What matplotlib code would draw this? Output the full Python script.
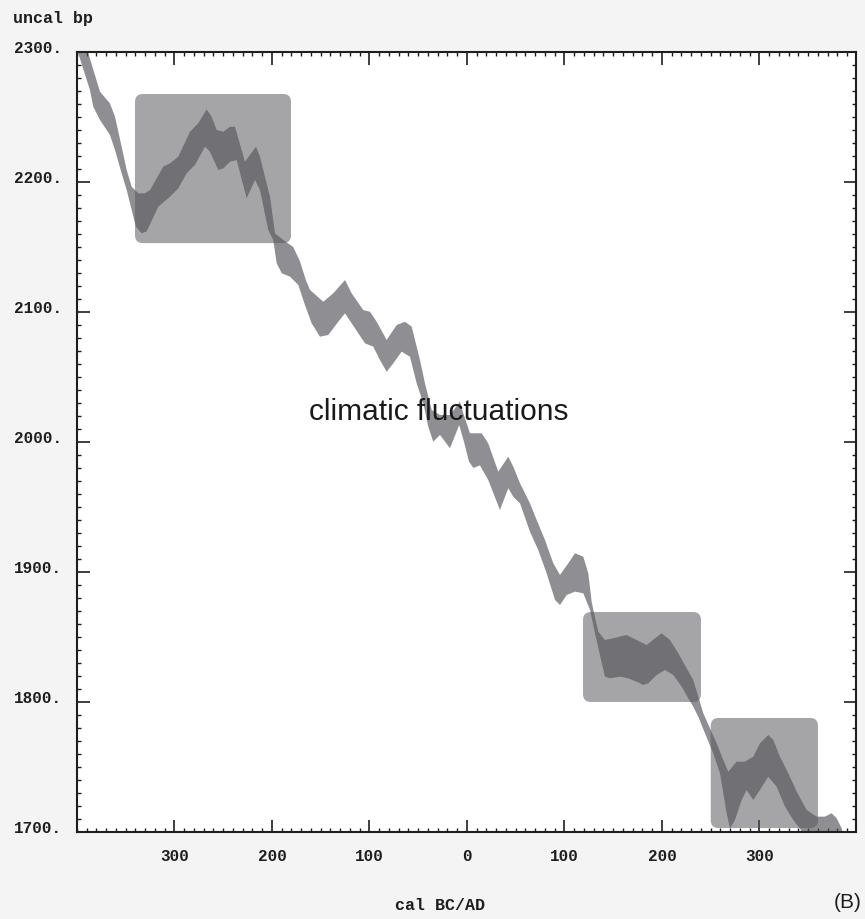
import matplotlib
matplotlib.use("Agg")
import matplotlib.pyplot as plt
from matplotlib.patches import FancyBboxPatch
from matplotlib.ticker import MultipleLocator
from matplotlib.transforms import ScaledTranslation

# ---- data: calibration band (cal year, negative = BC) ----
upper_x = [-392, -388.4, -376.4, -366.2, -361, -354.2, -349, -343.9, -337.1, -330.3, -325.1,
           -311.5, -304.6, -296.1, -284.1, -275.6, -267, -261.9, -256.7, -249.9, -243.1,
           -237.9, -227.7, -216.4, -212.3, -203.8, -202, -196.9, -188.4, -178.2, -171.3,
           -165, -161, -147.4, -137.1, -125.1, -118.3, -106.4, -99.5, -92.6, -82.4, -72.1,
           -63.6, -56.7, -48.2, -43.1, -36.2, -27.7, -17.4, -7.2, -3.8, 3.1, 15.1, 21.8,
           32.1, 42.4, 47.5, 54.4, 64.6, 71.5, 80, 88.5, 95.4, 103.9, 110.8, 119.3, 124.4,
           127.9, 131.3, 134.7, 141.5, 150.1, 156.9, 163.8, 174, 184.3, 192.8, 199.7, 208.2,
           216.7, 225.3, 232.1, 237.2, 242.4, 249.2, 256.1, 262.9, 268, 276.6, 285.1, 293.6,
           300.5, 309, 314.2, 321, 329.6, 338.2, 348.4, 358.7, 367.2, 374, 379.2, 384.3, 387]
upper_y = [2310, 2299, 2269.5, 2260.5, 2250.2, 2227.2, 2209.2, 2196.4, 2191.3, 2191.3, 2193.8,
           2211.8, 2214.4, 2219.5, 2238.7, 2245.2, 2255.9, 2250.2, 2240, 2238.7, 2242.5,
           2242.5, 2215.6, 2227.2, 2219.5, 2193.8, 2188.7, 2160.5, 2155.4, 2150, 2139,
           2124, 2117, 2107.9, 2114.4, 2124.6, 2114.4, 2101.5, 2100.2, 2092.5, 2078.5, 2090,
           2092.5, 2088.7, 2063, 2045.2, 2024.6, 2020.8, 2020.8, 2031, 2022, 2006.7, 2006.7, 1999,
           1977.2, 1988.7, 1981, 1968.2, 1952.8, 1940, 1924.6, 1906.7, 1897.7, 1906.7, 1914.4, 1911.8, 1899,
           1877, 1865, 1854.1, 1847.7, 1849, 1850.3, 1851.5, 1847.7, 1843.8, 1849, 1852.8, 1847.7,
           1837.5, 1825.9, 1816.9, 1804.1, 1791.3, 1779.8, 1768.2, 1755.4, 1746.4, 1754.1, 1754.1, 1757.9,
           1768.2, 1774.6, 1770.8, 1757.9, 1745.2, 1731, 1716.9, 1711.8, 1711.8, 1714.4, 1710.5, 1702.8, 1695]

lower_x = [-402, -398.7, -386.7, -383.3, -376.4, -366.2, -361, -354.2, -349, -343.9, -339.5,
           -333.7, -328.5, -316.6, -304.6, -296.1, -287.5, -279, -268.7, -263.6, -255.1,
           -249.9, -243.1, -236.2, -226, -217.4, -212.3, -203.8, -198.7, -195.2, -190,
           -181.5, -173, -166.2, -159.3, -150.8, -142.3, -132, -125.1, -114.9, -104.6, -96.1,
           -89.2, -82.4, -75.6, -67, -58.5, -51.6, -44.8, -39.7, -34.6, -27.7, -17.4, -8, -3,
           2, 6.5, 13.3, 21.8, 33.8, 42.4, 47.5, 54.4, 64.6, 73.1, 81.7, 90.3, 95.4, 102.3,
           110.8, 119.3, 126.2, 131.3, 136.4, 141.5, 146.7, 156.9, 165.4, 174, 180.8, 186,
           194.6, 203.1, 211.6, 220.2, 227, 232.1, 237.2, 244.1, 252.6, 259.5, 262.9, 266.3,
           269.7, 274.9, 281.7, 286.8, 293.6, 300.5, 309, 317.6, 326.2, 334.7, 341.5, 350, 387]
lower_y = [2310, 2299, 2270.8, 2257.9, 2247.7, 2236.2, 2224.6, 2206.7, 2193.8, 2178.5, 2165.6,
           2160.5, 2162, 2181, 2188.7, 2195.1, 2206.7, 2213.1, 2227.2, 2223.3, 2209.2,
           2210.5, 2215.6, 2216.9, 2187.5, 2201.5, 2193.8, 2163, 2155.4, 2137.5, 2129.8,
           2127.2, 2120.8, 2105.4, 2091.3, 2081, 2082.3, 2092.5, 2099, 2087.5, 2075.9, 2073.3,
           2063, 2054, 2060.5, 2069.5, 2065.6, 2045.2, 2029.8, 2011.8, 2000.2, 2005.4, 1995.2, 2013, 2000,
           1985, 1980, 1982, 1970.8, 1947.7, 1964.4, 1957.9, 1952.8, 1931, 1916.9, 1899, 1878.5, 1874.6, 1882.3,
           1884.9, 1883.6, 1870.8, 1852.8, 1836, 1819.5, 1818.2, 1819.5, 1818.2, 1815.6, 1813.1, 1814.4,
           1820.8, 1824.6, 1820.8, 1811.8, 1802.8, 1796.4, 1788.7, 1775.9, 1760.5, 1745.2, 1729.8, 1714.4,
           1702.8, 1709.2, 1724.6, 1732.3, 1724.6, 1732.3, 1742.5, 1734.8, 1719.5, 1709.2, 1702.8, 1690, 1690]

# highlighted periods: (x0, x1, y0, y1)
box_x0 = [-340.5, 119, 250]
box_x1 = [-180.5, 240, 360]
box_y0 = [2153, 1800, 1703]
box_y1 = [2267.7, 1869.2, 1787.7]

x_ticks = [-300, -200, -100, 0, 100, 200, 300]
x_labels = ["300", "200", "100", "0", "100", "200", "300"]
y_ticks = [1700, 1800, 1900, 2000, 2100, 2200, 2300]
y_labels = ["1700.", "1800.", "1900.", "2000.", "2100.", "2200.", "2300."]

mono = "Liberation Mono"
ink = "#1e1e1e"
shade = "#54555a"

fig = plt.figure(figsize=(8.65, 9.19), dpi=100)
fig.patch.set_facecolor("#f4f4f4")
ax = fig.add_axes([0.089, 0.0947, 0.9006, 0.8487])
ax.set_facecolor("white")
ax.set_xlim(-400, 399)
ax.set_ylim(1700, 2300)

# band polygon
poly_x = upper_x + lower_x[::-1]
poly_y = upper_y + lower_y[::-1]
ax.fill(poly_x, poly_y, color=shade, alpha=0.655, lw=0, zorder=2)

for x0, x1, y0, y1 in zip(box_x0, box_x1, box_y0, box_y1):
    p = FancyBboxPatch((x0, y0), x1 - x0, y1 - y0,
                       boxstyle="round,pad=0,rounding_size=8",
                       mutation_aspect=0.75,
                       facecolor=shade, alpha=0.527, lw=0, zorder=3)
    ax.add_patch(p)

ax.text(-29, 2023, "climatic fluctuations", family="Liberation Sans", fontsize=21.5,
        color="#1a1a1a", ha="center", va="center", zorder=5)

ax.set_xticks(x_ticks)
ax.set_xticklabels(x_labels, family=mono, fontsize=11.5, color=ink, fontweight="bold")
ax.set_yticks(y_ticks)
ax.set_yticklabels(y_labels, family=mono, fontsize=11.5, color=ink, fontweight="bold")
ax.xaxis.set_minor_locator(MultipleLocator(10))
ax.yaxis.set_minor_locator(MultipleLocator(10))
ax.tick_params(which="both", direction="in", top=True, right=True, colors=ink)
ax.tick_params(which="major", length=9, width=1.2)
ax.tick_params(which="minor", length=2.6, width=1.0)
ax.tick_params(axis="x", which="major", pad=12)
ax.tick_params(axis="y", which="major", pad=10.5)
for lab in ax.get_yticklabels():
    lab.set_transform(lab.get_transform() + ScaledTranslation(0, 5 / 100, fig.dpi_scale_trans))
for s in ax.spines.values():
    s.set_linewidth(1.5)
    s.set_color(ink)

fig.text(13 / 865, 1 - 19 / 919, "uncal bp", family=mono, fontsize=12, color=ink,
         ha="left", va="center", fontweight="bold")
fig.text(440 / 865, 1 - 905 / 919, "cal BC/AD", family=mono, fontsize=12, color=ink,
         ha="center", va="center", fontweight="bold")
fig.text(862 / 865, 1 - 903 / 919, "(B)", family="Liberation Sans", fontsize=15, color=ink,
         ha="right", va="center")

fig.savefig("out.png", dpi=100, facecolor=fig.get_facecolor())
